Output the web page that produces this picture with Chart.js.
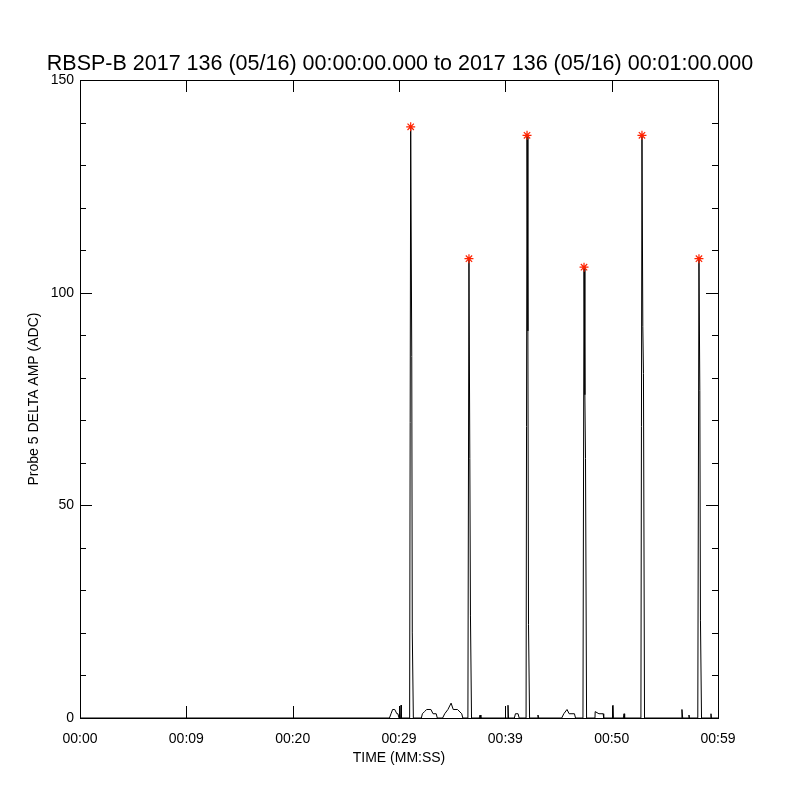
<!DOCTYPE html>
<html>
<head>
<meta charset="utf-8">
<script src="https://cdn.jsdelivr.net/npm/chart.js@4.4.1/dist/chart.umd.min.js"></script>
<style>
  html, body { margin: 0; padding: 0; background: #fff; }
  #wrap { width: 800px; height: 800px; }
</style>
</head>
<body>
<div id="wrap"><canvas id="myChart" width="800" height="800"></canvas></div>
<script>
const titleText = 'RBSP-B 2017 136 (05/16) 00:00:00.000 to 2017 136 (05/16) 00:01:00.000';
const xTickValues = [0, 10, 20, 30, 40, 50, 60];
const xTickLabels = ['00:00', '00:09', '00:20', '00:29', '00:39', '00:50', '00:59'];
const yTickValues = [0, 50, 100, 150];

// seconds after 00:00:00 and probe amplitude (ADC)
const times = [0, 29.1, 29.25, 29.4, 29.6, 29.8, 29.9, 30.0, 30.15, 30.19, 30.23,
  31.0, 31.1, 31.2, 31.25, 31.35,
  32.1, 32.2, 32.4, 32.6, 33.0, 33.2, 33.5, 33.6,
  34.1, 34.3, 34.6, 34.9, 35.1, 35.5, 35.9, 36.0,
  36.48, 36.58, 36.66, 36.72, 36.82,
  37.55, 37.62, 37.7,
  40.2, 40.25, 40.3,
  40.85, 40.95, 41.2, 41.3,
  41.95, 42.04, 42.12, 42.18, 42.28,
  43.0, 43.07, 43.14,
  45.3, 45.5, 45.8, 46.0, 46.5, 46.6,
  47.3, 47.4, 47.48, 47.54, 47.64,
  48.43, 48.45, 48.8, 49.2, 49.25,
  50.08, 50.12, 50.16,
  51.1, 51.16, 51.22,
  52.75, 52.85, 52.93, 52.99, 53.09,
  56.55, 56.61, 56.68,
  57.22, 57.27, 57.32,
  58.1, 58.21, 58.29, 58.35, 58.45,
  59.3, 59.34, 59.38, 60];
const amps = [0, 0, 1, 2, 2, 1, 1, 0, 0, 3, 0,
  0, 139, 85, 20, 0,
  0, 1, 1.5, 2, 2, 1, 1, 0,
  0, 1, 2, 3.5, 2, 2, 1, 0,
  0, 108, 61, 24, 0,
  0, 0.7, 0,
  0, 3, 0,
  0, 1, 1, 0,
  0, 137, 91, 22, 0,
  0, 0.7, 0,
  0, 1, 2, 1, 1, 0,
  0, 106, 76, 61, 0,
  0, 1.5, 1, 1, 0,
  0, 3, 0,
  0, 1, 0,
  0, 137, 92, 81, 0,
  0, 2, 0,
  0, 0.7, 0,
  0, 108, 77, 23, 0,
  0, 1, 0, 0];

const peakTimes = [31.1, 36.58, 42.04, 47.4, 52.85, 58.21];
const peakAmps = [139, 108, 137, 106, 137, 108];

const FONT = "'Liberation Sans', Arial, sans-serif";

const frame = {
  id: 'frame',
  afterDatasetsDraw(chart) {
    const ctx = chart.ctx;
    const a = chart.chartArea;
    const x = chart.scales.x;
    const y = chart.scales.y;
    ctx.save();
    ctx.strokeStyle = '#000';
    ctx.lineWidth = 1;
    ctx.strokeRect(a.left + 0.5, a.top + 0.5, a.right - a.left, a.bottom - a.top);
    ctx.beginPath();
    xTickValues.forEach(v => {
      const px = Math.round(x.getPixelForValue(v)) + 0.5;
      ctx.moveTo(px, a.bottom); ctx.lineTo(px, a.bottom - 12);
      ctx.moveTo(px, a.top); ctx.lineTo(px, a.top + 12);
    });
    for (let v = 0; v <= 150; v += 10) {
      const py = Math.round(y.getPixelForValue(v)) + 0.5;
      const len = v % 50 === 0 ? 12 : 6;
      ctx.moveTo(a.left, py); ctx.lineTo(a.left + len, py);
      ctx.moveTo(a.right, py); ctx.lineTo(a.right - len, py);
    }
    ctx.stroke();
    ctx.fillStyle = '#000';
    ctx.font = '21.5px ' + FONT;
    ctx.textAlign = 'center';
    ctx.textBaseline = 'middle';
    ctx.fillText(titleText, 400, 64);
    ctx.restore();
  }
};

const ctx = document.getElementById('myChart').getContext('2d');

const myChart = new Chart(ctx, {
  type: 'line',
  data: {
    datasets: [
      {
        label: 'Probe 5 DELTA AMP',
        data: times.map((t, i) => ({ x: t, y: amps[i] })),
        borderColor: '#000',
        borderWidth: 1,
        pointRadius: 0,
        tension: 0,
        fill: false,
        order: 2
      },
      {
        label: 'Peaks',
        data: peakTimes.map((t, i) => ({ x: t, y: peakAmps[i] })),
        showLine: false,
        pointStyle: 'star',
        pointRadius: 4.5,
        borderColor: '#ff2200',
        backgroundColor: '#ff2200',
        pointBorderWidth: 1.2,
        order: 1
      }
    ]
  },
  options: {
    responsive: false,
    animation: false,
    layout: { padding: { top: 80, right: 82, bottom: 0, left: 0 } },
    plugins: {
      legend: { display: false },
      tooltip: { enabled: false }
    },
    scales: {
      x: {
        type: 'linear',
        min: 0,
        max: 60,
        afterFit: s => { s.height = 82; },
        afterBuildTicks: s => { s.ticks = xTickValues.map(v => ({ value: v })); },
        grid: { drawOnChartArea: false, drawTicks: false },
        border: { display: true, color: '#000', width: 1 },
        ticks: {
          padding: 13,
          color: '#000',
          maxRotation: 0,
          font: { family: FONT, size: 14 },
          callback: v => xTickLabels[xTickValues.indexOf(v)]
        },
        title: {
          display: true,
          text: 'TIME (MM:SS)',
          color: '#000',
          font: { family: FONT, size: 14 },
          padding: { top: 0, bottom: 33.6 }
        }
      },
      y: {
        min: 0,
        max: 150,
        afterFit: s => { s.width = 80; },
        afterBuildTicks: s => { s.ticks = yTickValues.map(v => ({ value: v })); },
        grid: { drawOnChartArea: false, drawTicks: false },
        border: { display: true, color: '#000', width: 1 },
        ticks: {
          padding: 6,
          color: '#000',
          font: { family: FONT, size: 14 }
        },
        title: {
          display: true,
          text: 'Probe 5 DELTA AMP (ADC)',
          color: '#000',
          font: { family: FONT, size: 14 },
          padding: { top: 25.6, bottom: 0 }
        }
      }
    }
  },
  plugins: [frame]
});
</script>
</body>
</html>
